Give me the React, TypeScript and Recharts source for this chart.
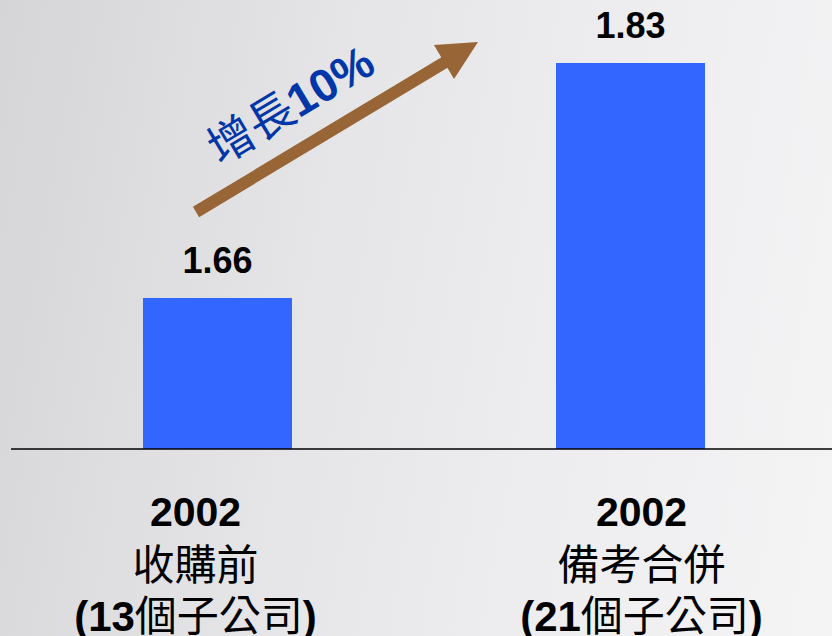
import { Bar, BarChart, LabelList, XAxis, YAxis } from "recharts";

const categories = ["收購前", "備考合併"];
const years = ["2002", "2002"];
const subsidiaryCounts = ["13", "21"];
const values = [1.66, 1.83];
const growthLabel = ["增長", "10%"];

const data = categories.map((name, i) => ({
  name,
  year: years[i],
  count: subsidiaryCounts[i],
  value: values[i]
}));

const cjk = '"Noto Sans CJK TC", "Liberation Sans", Arial, sans-serif';
const latin = '"Liberation Sans", Arial, sans-serif';

// the slide's category text is not exactly centred under the bars
const labelShift = [-22, 11];

function TwoLineTick(props: any) {
  const { x, y, payload, index } = props;
  const i = index ?? categories.indexOf(payload.value);
  const row = data[i];
  return (
    <g transform={`translate(${x + labelShift[i]},${y})`}>
      <text x={0} y={69} textAnchor="middle" fill="#000" fontSize={41} fontWeight="bold" fontFamily={latin}>
        {row.year}
      </text>
      <text x={0} y={123} textAnchor="middle" fill="#000" fontSize={42} fontFamily={cjk}>
        {payload.value}
      </text>
      <text x={0} y={174} textAnchor="middle" fill="#000" fontSize={42} fontFamily={cjk}>
        <tspan fontWeight="bold" fontFamily={latin}>({row.count}</tspan>
        <tspan>個子公司</tspan>
        <tspan fontWeight="bold" fontFamily={latin}>)</tspan>
      </text>
    </g>
  );
}

export default function App() {
  return (
    <div
      style={{
        position: "absolute",
        left: 0,
        top: 0,
        width: 832,
        height: 636,
        overflow: "hidden",
        background: "linear-gradient(100deg, #d5d5d8 0%, #e6e6e9 40%, #eeeef0 70%, #f4f4f5 100%)"
      }}
    >
      <BarChart
        width={837}
        height={636}
        data={data}
        margin={{ top: 0, right: 0, bottom: 0, left: 11 }}
      >
        <XAxis
          dataKey="name"
          height={187}
          tickLine={false}
          axisLine={{ stroke: "#000", strokeWidth: 1.5 }}
          tick={<TwoLineTick />}
          interval={0}
        />
        <YAxis hide domain={[1.5508, 1.8756]} allowDataOverflow />
        <Bar dataKey="value" fill="#3366FF" barSize={149} isAnimationActive={false}>
          <LabelList
            dataKey="value"
            position="top"
            offset={25}
            fill="#000"
            fontSize={36}
            fontWeight="bold"
            fontFamily={latin}
            formatter={(v: any) => Number(v).toFixed(2)}
          />
        </Bar>
      </BarChart>
      <svg width={832} height={636} style={{ position: "absolute", left: 0, top: 0, pointerEvents: "none" }}>
        <line x1={196} y1={212} x2={452} y2={58} stroke="#986636" strokeWidth={12} />
        <polygon points="478,42 434,45 454,79" fill="#986636" />
        <text transform="translate(220,166) rotate(-31)" fill="#0036A8" fontSize={46} fontFamily={cjk}>
          <tspan>{growthLabel[0]}</tspan>
          <tspan fontWeight="bold" fontFamily={latin}>
            {growthLabel[1]}
          </tspan>
        </text>
      </svg>
    </div>
  );
}
